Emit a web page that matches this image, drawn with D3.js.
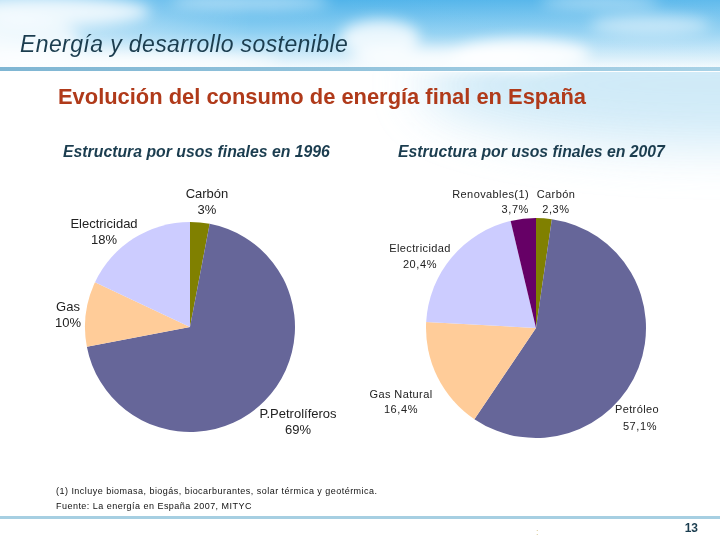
<!DOCTYPE html>
<html><head><meta charset="utf-8">
<script src="https://cdn.jsdelivr.net/npm/d3@7"></script>
<style>body{margin:0;background:#fff}svg{display:block}</style>
</head><body>
<script>
const labels1996 = ["Carbón","P.Petrolíferos","Gas","Electricidad"];
const values1996 = [3,69,10,18];
const pct1996 = ["3%","69%","10%","18%"];
const labels2007 = ["Carbón","Petróleo","Gas Natural","Electricidad","Renovables(1)"];
const values2007 = [2.3,57.1,16.4,20.4,3.7];
const pct2007 = ["2,3%","57,1%","16,4%","20,4%","3,7%"];
const colorMap = {"Carbón":"#808000","P.Petrolíferos":"#666699","Petróleo":"#666699","Gas":"#ffcc99","Gas Natural":"#ffcc99","Electricidad":"#ccccff","Renovables(1)":"#660066"};

const W=720,H=540;
const FONT="Liberation Sans, Arial, sans-serif";
const svg=d3.select("body").append("svg").attr("width",W).attr("height",H);
const defs=svg.append("defs");
const sky=defs.append("linearGradient").attr("id","sky").attr("x1",0).attr("y1",0).attr("x2",0).attr("y2",1);
sky.append("stop").attr("offset","0%").attr("stop-color","#4fb3ea");
sky.append("stop").attr("offset","45%").attr("stop-color","#8fd0f2");
sky.append("stop").attr("offset","100%").attr("stop-color","#ffffff");
const skyH=defs.append("linearGradient").attr("id","skyH").attr("x1",0).attr("y1",0).attr("x2",1).attr("y2",0);
skyH.append("stop").attr("offset","0%").attr("stop-color","#ffffff").attr("stop-opacity",0.55);
skyH.append("stop").attr("offset","35%").attr("stop-color","#ffffff").attr("stop-opacity",0);
skyH.append("stop").attr("offset","100%").attr("stop-color","#ffffff").attr("stop-opacity",0.1);
defs.append("filter").attr("id","blur").attr("x","-50%").attr("y","-50%").attr("width","200%").attr("height","200%")
  .append("feGaussianBlur").attr("stdDeviation",7);
defs.append("filter").attr("id","blur2").attr("x","-50%").attr("y","-50%").attr("width","200%").attr("height","200%")
  .append("feGaussianBlur").attr("stdDeviation",25);
const lineG=defs.append("linearGradient").attr("id","lineG").attr("x1",0).attr("x2",1);
lineG.append("stop").attr("offset","0%").attr("stop-color","#7fb6d3");
lineG.append("stop").attr("offset","100%").attr("stop-color","#a9d2e6");

svg.append("ellipse").attr("cx",720).attr("cy",85).attr("rx",300).attr("ry",60).attr("fill","#cbe8f7").attr("filter","url(#blur2)").attr("opacity",0.9);

svg.append("rect").attr("width",W).attr("height",72).attr("fill","url(#sky)");
svg.append("rect").attr("width",W).attr("height",72).attr("fill","url(#skyH)");

const clouds=svg.append("g").attr("filter","url(#blur)").attr("fill","#ffffff");
[[60,12,90,14,0.8],[20,40,60,20,0.7],[380,38,40,18,0.8],[520,55,70,16,0.9],[440,60,90,12,0.8],[650,25,60,10,0.5],[250,2,80,8,0.5],[600,2,60,6,0.5],[120,62,160,10,0.8]]
  .forEach(c=>clouds.append("ellipse").attr("cx",c[0]).attr("cy",c[1]).attr("rx",c[2]).attr("ry",c[3]).attr("opacity",c[4]));

svg.append("rect").attr("x",0).attr("y",67).attr("width",W).attr("height",4).attr("fill","url(#lineG)");
svg.append("rect").attr("x",0).attr("y",516).attr("width",W).attr("height",3).attr("fill","#a6cfe2");

svg.append("text").attr("x",20).attr("y",52).attr("font-family",FONT)
  .attr("font-style","italic").attr("font-size",23).attr("letter-spacing",0.4).attr("fill","#1b3d4f").text("Energía y desarrollo sostenible");
svg.append("text").attr("x",58).attr("y",104).attr("font-family",FONT)
  .attr("font-weight","bold").attr("font-size",21.9).attr("fill","#b03a1a").text("Evolución del consumo de energía final en España");
svg.append("text").attr("x",63).attr("y",157).attr("font-family",FONT).attr("font-weight","bold")
  .attr("font-style","italic").attr("font-size",15.8).attr("fill","#1b3d4f").text("Estructura por usos finales en 1996");
svg.append("text").attr("x",398).attr("y",157).attr("font-family",FONT).attr("font-weight","bold")
  .attr("font-style","italic").attr("font-size",15.8).attr("fill","#1b3d4f").text("Estructura por usos finales en 2007");

function drawPie(cx,cy,r,labels,values){
  const data=labels.map((l,i)=>({label:l,value:values[i]}));
  const pie=d3.pie().sort(null).value(d=>d.value);
  const arc=d3.arc().innerRadius(0).outerRadius(r);
  svg.append("g").attr("transform",`translate(${cx},${cy})`)
    .selectAll("path").data(pie(data)).join("path")
    .attr("d",arc).attr("fill",d=>colorMap[d.data.label]);
}
drawPie(190,327,105,labels1996,values1996);
drawPie(536,328,110,labels2007,values2007);

function lab(x1,y,t1,x2,t2,anchor,size,ls1,ls2,gap){
  const g=svg.append("g").attr("font-family",FONT).attr("font-size",size).attr("fill","#222").attr("text-anchor",anchor);
  g.append("text").attr("x",x1).attr("y",y).attr("letter-spacing",ls1).text(t1);
  g.append("text").attr("x",x2).attr("y",y+gap).attr("letter-spacing",ls2).text(t2);
}
lab(207,198,labels1996[0],207,pct1996[0],"middle",13,0,0,16);
lab(298,418,labels1996[1],298,pct1996[1],"middle",13,0,0,16);
lab(68,311,labels1996[2],68,pct1996[2],"middle",13,0,0,16);
lab(104,228,labels1996[3],104,pct1996[3],"middle",13,0,0,16);

lab(556,198,labels2007[0],556,pct2007[0],"middle",11,0.4,0.6,15);
lab(637,413,labels2007[1],640,pct2007[1],"middle",11,0.4,0.6,17);
lab(401,398,labels2007[2],401,pct2007[2],"middle",11,0.4,0.6,15);
lab(420,252,labels2007[3],420,pct2007[3],"middle",11,0.4,0.6,16);
lab(529,198,labels2007[4],529,pct2007[4],"end",11,0.4,0.6,15);

svg.append("text").attr("x",56).attr("y",494).attr("font-family",FONT).attr("font-size",9).attr("letter-spacing",0.47).attr("fill","#111")
  .text("(1) Incluye biomasa, biogás, biocarburantes, solar térmica y geotérmica.");
svg.append("text").attr("x",56).attr("y",509).attr("font-family",FONT).attr("font-size",9).attr("letter-spacing",0.47).attr("fill","#111")
  .text("Fuente: La energía en España 2007, MITYC");
svg.append("text").attr("x",536).attr("y",535).attr("font-family",FONT).attr("font-size",9).attr("fill","#d8c890").text(":");
svg.append("text").attr("x",698).attr("y",532).attr("text-anchor","end").attr("font-family",FONT).attr("font-weight","bold").attr("font-size",12).attr("fill","#1b3d4f").text("13");
</script>
</body></html>
